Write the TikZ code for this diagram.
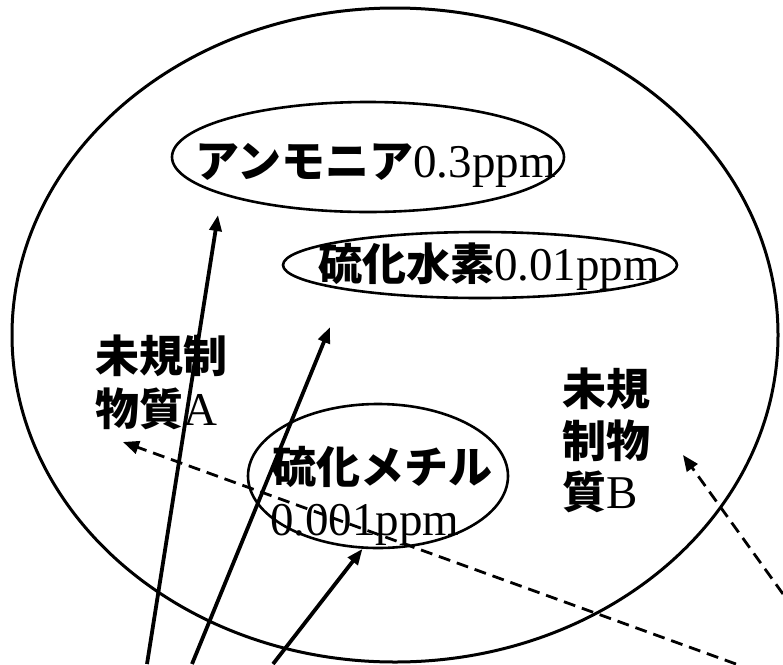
\documentclass[tikz,border=0pt]{standalone}
\usepackage{fontspec}
\setmainfont{Liberation Serif}
\newfontfamily\cjk{Noto Sans CJK JP}
\newcommand\jpt[1]{{\cjk\bfseries\fontsize{44}{52}\selectfont #1}}
\usetikzlibrary{shapes.geometric,arrows.meta}
\begin{document}
\begin{tikzpicture}[x=1pt,y=-1pt,
  world/.style={ellipse, draw, line width=3pt, inner sep=0pt},
  bubble/.style={ellipse, draw, line width=2.6pt, inner sep=0pt},
  lbl/.style={inner sep=0pt, anchor=base west, font=\fontsize{47}{52}\selectfont},
  arr/.style={line width=3.8pt, -{Triangle[length=16pt,width=12pt]}},
  darr/.style={line width=2.8pt, dash pattern=on 12pt off 7pt, -{Triangle[length=16pt,width=13pt]}}]
\useasboundingbox (0,0) rectangle (783,664);

\node[world, minimum width=766pt, minimum height=654pt] (world) at (395,335) {};
\node[bubble, minimum width=392pt, minimum height=110pt] (amm) at (368,157) {};
\node[bubble, minimum width=394pt, minimum height=66pt] (h2s) at (480,265) {};
\node[bubble, minimum width=260pt, minimum height=144pt] (dms) at (378,476) {};

\node[lbl] (ammt) at (195,177) {\jpt{アンモニア}0.3ppm};
\node[lbl] (h2st) at (318,280) {\jpt{硫化水素}0.01ppm};
\node[lbl] (dmst1) at (272,483) {\jpt{硫化メチル}};
\node[lbl] (dmst2) at (270,535) {0.001ppm};
\node[lbl] (ua1) at (95,372) {\jpt{未規制}};
\node[lbl] (ua2) at (95,425) {\jpt{物質}A};
\node[lbl] (ub1) at (562,405) {\jpt{未規}};
\node[lbl] (ub2) at (562,457) {\jpt{制物}};
\node[lbl] (ub3) at (562,508) {\jpt{質}B};

\coordinate (s1) at (147,664);
\coordinate (t1) at (218,215);
\coordinate (s2) at (192,664);
\coordinate (t2) at (330,327);
\coordinate (s3) at (273,664);
\coordinate (d1s) at (736,664);
\coordinate (d1t) at (123,442);
\coordinate (d2s) at (783,594);
\coordinate (d2t) at (683,455);

\draw[arr] (s1) -- (t1);
\draw[arr] (s2) -- (t2);
\draw[arr] (s3) -- (dms.258);
\draw[darr] (d1s) -- (d1t);
\draw[darr] (d2s) -- (d2t);
\end{tikzpicture}
\end{document}
